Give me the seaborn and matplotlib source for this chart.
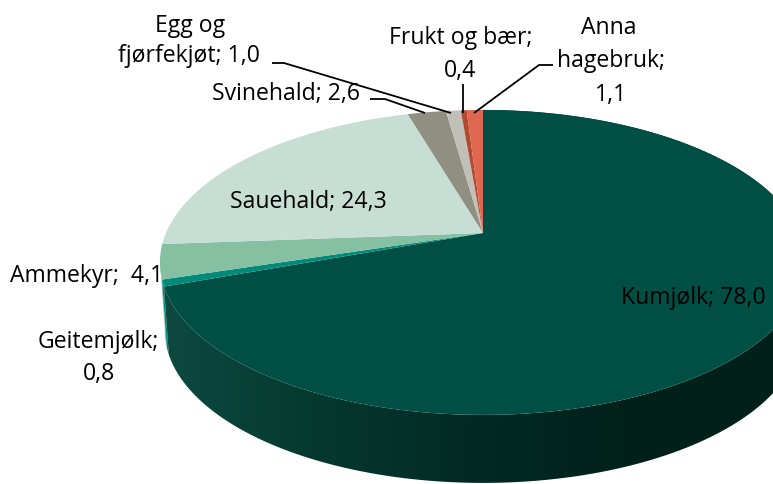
import numpy as np
import matplotlib
matplotlib.use('Agg')
import matplotlib.pyplot as plt
import matplotlib.transforms as mtransforms
from matplotlib.colors import LinearSegmentedColormap
from matplotlib.path import Path
from matplotlib.patches import Polygon
import seaborn as sns

categories = ['Kumjølk', 'Geitemjølk', 'Ammekyr', 'Sauehald', 'Svinehald',
              'Egg og fjørfekjøt', 'Frukt og bær', 'Anna hagebruk']
values = [78.0, 0.8, 4.1, 24.3, 2.6, 1.0, 0.4, 1.1]
hex_colours = ['#004f45', '#008a7a', '#85c0a3', '#c6ded4', '#8f8f82',
               '#c0c0b8', '#b04a30', '#e0674f']
wall_shades = ['#0d4a40', '#05392f', '#032a24', '#01211b', '#01201a']

# centre of the top face and how the disc is tilted, in pixels
X0, Y0 = 483, 233
BX, AY, K = 317, 146.8, 0.193
DEPTH = 68


class Tilt(mtransforms.Transform):
    # projective map, so the apex sits above the middle of the ellipse
    input_dims = 2
    output_dims = 2

    def transform_non_affine(self, values):
        u, v = values[:, 0], values[:, 1]
        w = 1 + K * v
        return np.column_stack([X0 + BX * u / w, Y0 - AY * v / w])

    def transform_path_non_affine(self, path):
        big = path.transformed(mtransforms.Affine2D().scale(2000))
        poly = big.to_polygons(closed_only=False)[0] / 2000
        return Path(self.transform_non_affine(poly))


tilt = Tilt()


def arc(t0, t1):
    t = np.radians(np.linspace(t0, t1, 200))
    return tilt.transform_non_affine(np.column_stack([np.sin(t), np.cos(t)]))


def wall(t0, t1):
    top = arc(t0, t1)
    low = top.copy()
    low[:, 0] = X0 + (low[:, 0] - X0) * 0.985
    low[:, 1] = low[:, 1] + DEPTH
    return np.vstack([top, low[::-1]])


def num(v):
    return f'{v:.1f}'.replace('.', ',')


sns.set_theme(style='white')
plt.rcParams['font.family'] = ['Open Sans', 'DejaVu Sans']
palette = sns.color_palette(hex_colours)

fig = plt.figure(figsize=(7.73, 4.84), dpi=100)
ax = fig.add_axes([0, 0, 1, 1])

wedges, _ = ax.pie(values, colors=palette, startangle=90, counterclock=False,
                   wedgeprops={'linewidth': 0})
for w in wedges:
    w.set_transform(tilt + ax.transData)
    w.set_zorder(3)

# side of the pie, only what faces the viewer
ends = np.cumsum(values) / np.sum(values) * 360
limit = 259.5
for i in [2, 1]:
    poly = wall(ends[i - 1], min(ends[i], limit))
    ax.add_patch(Polygon(poly, closed=True, fc=palette[i], ec='none', zorder=1))

side = Polygon(wall(0, ends[0]), closed=True, transform=ax.transData, fc='none', ec='none')
ax.add_patch(side)
cmap = LinearSegmentedColormap.from_list('side', wall_shades)
im = ax.imshow(np.linspace(0, 1, 256)[None, :], cmap=cmap, aspect='auto',
               extent=[160, 773, 484, 100], zorder=2)
im.set_clip_path(side)

ax.set_aspect('auto')
ax.axis('off')

# labels
fs = 16.6
labels = [
    (190, 26, 'Egg og'),
    (189, 56, f'fjørfekjøt; {num(values[5])}'),
    (286, 94, f'Svinehald; {num(values[4])}'),
    (461, 38, 'Frukt og bær;'),
    (460, 71, num(values[6])),
    (609, 28, 'Anna'),
    (611, 61, 'hagebruk;'),
    (611, 95, num(values[7])),
    (308, 202, f'Sauehald; {num(values[3])}'),
    (87, 276, f'Ammekyr;  {num(values[2])}'),
    (98, 342, 'Geitemjølk;'),
    (99, 374, num(values[1])),
    (693, 298, f'Kumjølk; {num(values[0])}'),
]
for tx, ty, s in labels:
    ax.text(tx, ty, s, ha='center', va='center', fontsize=fs, color='black', zorder=5)

# leader lines
leaders = [
    ([272, 284, 451], [63, 63, 113]),
    ([370, 385, 425], [99, 99, 113]),
    ([463, 463], [84, 113]),
    ([553, 539, 474], [65, 65, 113]),
]
for lx, ly in leaders:
    ax.plot(lx, ly, color='black', lw=1.3, zorder=4, solid_capstyle='butt')

ax.set_xlim(0, 773)
ax.set_ylim(484, 0)
fig.savefig('out.png', dpi=100, facecolor='white')
